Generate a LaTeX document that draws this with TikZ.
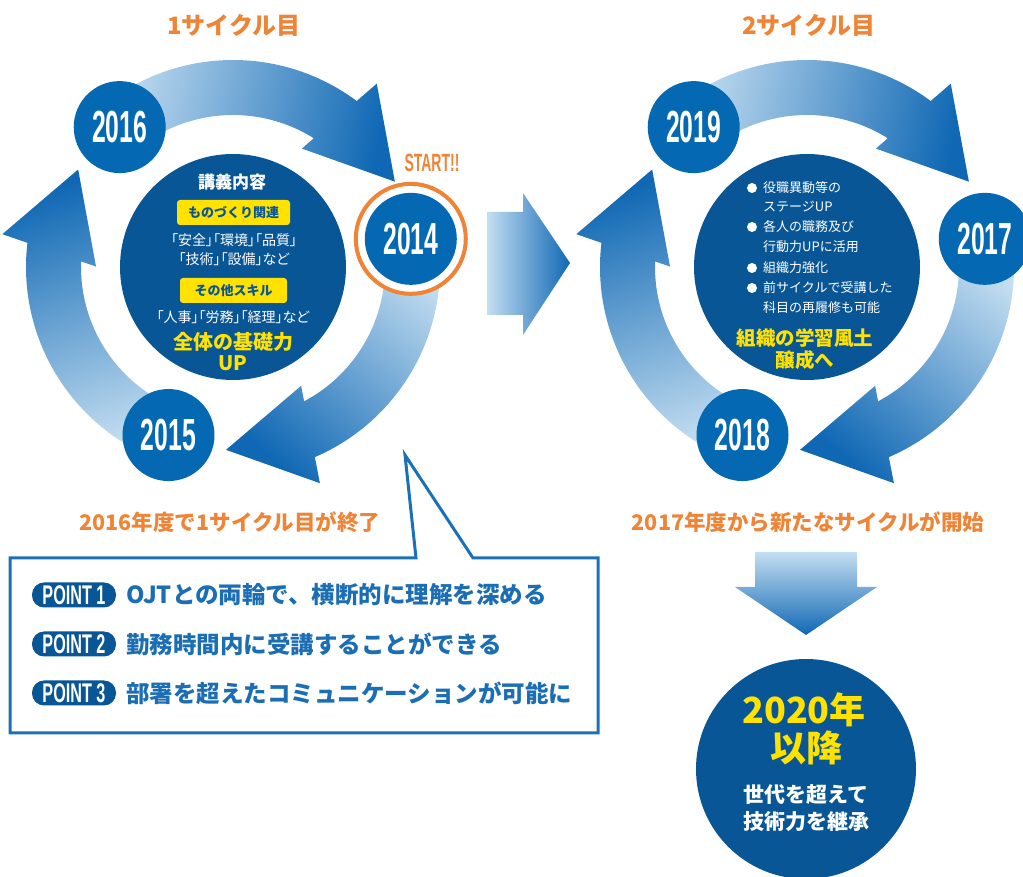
\documentclass[tikz,border=0pt]{standalone}
\usepackage{fontspec}
\usepackage{graphicx}
\setmainfont{Noto Sans CJK JP}
\newfontfamily\jpp{Noto Sans CJK JP}[RawFeature=+palt]
\newfontfamily\condf{Liberation Sans}
\usetikzlibrary{calc}
\definecolor{yearblue}{RGB}{4,104,178}
\definecolor{navy}{RGB}{9,86,150}
\definecolor{alight}{RGB}{196,222,241}
\definecolor{adark}{RGB}{16,104,180}
\definecolor{orng}{RGB}{239,132,54}
\definecolor{ylw}{RGB}{255,226,0}
\definecolor{ptblue}{RGB}{28,110,180}
\definecolor{boxblue}{RGB}{28,112,182}
\newcommand\myfs[1]{\fontsize{#1}{#1}\selectfont}
\newcommand\ringarrow[3]{%
\begin{scope}[shift={(#1)}]
\shade[top color=alight, bottom color=adark, shading angle=#3]
 ({129+#2}:207) arc[start angle={129+#2}, end angle={53.3+#2}, radius=207]
 -- ({51.9+#2}:233) -- ({27.8+#2}:183) -- ({59.8+#2}:137) -- ({57.9+#2}:152)
 arc[start angle={57.9+#2}, end angle={129+#2}, radius=152] -- cycle;
\end{scope}}
\begin{document}
\begin{tikzpicture}[x=1pt,y=1pt,
  year/.style={circle, fill=yearblue, minimum size=92pt, inner sep=0pt, text=white, font=\condf\bfseries\myfs{45}},
  center/.style={circle, fill=navy, minimum size=226pt, inner sep=0pt},
  tag/.style={fill=ylw, rounded corners=3pt, text=navy, font=\bfseries\myfs{13}, minimum height=25pt, inner sep=0pt},
  wtxt/.style={text=white, font=\myfs{13}, inner sep=0pt},
  ytxt/.style={text=ylw, font=\bfseries\myfs{20}, inner sep=0pt},
  otxt/.style={text=orng, font=\bfseries\myfs{21.5}, inner sep=0pt},
  bul/.style={circle, fill=white, minimum size=10pt, inner sep=0pt},
  badge/.style={fill=navy, rounded corners=12pt, minimum width=84pt, minimum height=25pt, inner sep=0pt, text=white, font=\condf\bfseries\myfs{27}},
  pttxt/.style={anchor=west, text=ptblue, font=\bfseries\myfs{23.5}, inner sep=0pt}]
\useasboundingbox (0,0) rectangle (1023,876);
\clip (0,0) rectangle (1023,876);
\coordinate (L) at (233,609);
\coordinate (R) at (807,609);
% ring arrows
\ringarrow{L}{0}{79}
\ringarrow{L}{-120}{-41}
\ringarrow{L}{120}{-161}
\ringarrow{R}{0}{79}
\ringarrow{R}{-120}{-41}
\ringarrow{R}{120}{-161}
% centres
\node[center] (lc) at (L) {};
\node[center] (rc) at (R) {};
% year circles, cycle 1
\node[year] (y16) at ($(L)+(129:180)$) {\scalebox{0.55}[1]{2016}};
\node[circle, draw=orng, line width=4pt, fill=white, minimum size=110pt, inner sep=0pt] (ring14) at ($(L)+(9:180)$) {};
\node[year] (y14) at (ring14) {\scalebox{0.55}[1]{2014}};
\node[year] (y15) at ($(L)+(249:180)$) {\scalebox{0.55}[1]{2015}};
\node[text=orng, font=\condf\bfseries\myfs{25}, inner sep=0pt] (start) at (432,713) {\scalebox{0.56}[1]{START!!}};
% year circles, cycle 2
\node[year] (y19) at ($(R)+(129:180)$) {\scalebox{0.55}[1]{2019}};
\node[year] (y17) at ($(R)+(9:180)$) {\scalebox{0.55}[1]{2017}};
\node[year] (y18) at ($(R)+(249:180)$) {\scalebox{0.55}[1]{2018}};
% left centre text
\node[wtxt, font=\bfseries\myfs{17}] (lt1) at (232,694) {講義内容};
\node[tag, minimum width=113pt] (tag1) at (233.5,663.5) {ものづくり関連};
\node[wtxt, font=\jpp\myfs{14}] (lt2) at (234,636) {「安全」「環境」「品質」};
\node[wtxt, font=\jpp\myfs{14}] (lt3) at (234,617) {「技術」「設備」など};
\node[tag, minimum width=107pt] (tag2) at (233.5,585.5) {その他スキル};
\node[wtxt, font=\jpp\myfs{14}] (lt4) at (233,559) {「人事」「労務」「経理」など};
\node[ytxt] (lt5) at (233,534) {全体の基礎力};
\node[ytxt] (lt6) at (233,513) {UP};
% right centre text
\node[bul] (b1) at (752,688) {};
\node[wtxt, anchor=west] (rt1) at (763,688) {役職異動等の};
\node[wtxt, anchor=west] (rt2) at (763,669) {ステージUP};
\node[bul] (b2) at (752,649) {};
\node[wtxt, anchor=west] (rt3) at (763,649) {各人の職務及び};
\node[wtxt, anchor=west] (rt4) at (763,629) {行動力UPに活用};
\node[bul] (b3) at (752,608) {};
\node[wtxt, anchor=west] (rt5) at (763,608) {組織力強化};
\node[bul] (b4) at (752,588) {};
\node[wtxt, anchor=west] (rt6) at (763,588) {前サイクルで受講した};
\node[wtxt, anchor=west] (rt7) at (763,568) {科目の再履修も可能};
\node[ytxt, font=\bfseries\myfs{19.5}] (rt8) at (805,538) {組織の学習風土};
\node[ytxt, font=\bfseries\myfs{19.5}] (rt9) at (805,516) {醸成へ};
% titles and captions
\node[otxt, font=\bfseries\myfs{24}] (c1) at (234,851) {1サイクル目};
\node[otxt, font=\bfseries\myfs{24}] (c2) at (809,851) {2サイクル目};
\node[otxt] (e1) at (230,354) {2016年度で1サイクル目が終了};
\node[otxt] (e2) at (808,354) {2017年度から新たなサイクルが開始};
% middle arrow
\shade[left color=alight, right color=adark] (487,664) -- (523,664) -- (523,683) -- (570,613) -- (523,541) -- (523,561) -- (487,561) -- cycle;
% down arrow
\shade[top color=alight, bottom color=adark] (755,324) -- (755,289) -- (735,289) -- (806,241) -- (877,289) -- (857,289) -- (857,324) -- cycle;
% callout box
\draw[boxblue, line width=3pt, fill=white, line join=miter] (416,318) -- (10,318) -- (10,143) -- (598,143) -- (598,318) -- (473,318) -- (405,421) -- cycle;
\node[badge] (p1) at (74,281) {\scalebox{0.6}[1]{POINT 1}};
\node[pttxt] (t1) at (126,281) {OJTとの両輪で、横断的に理解を深める};
\node[badge] (p2) at (74,232) {\scalebox{0.6}[1]{POINT 2}};
\node[pttxt] (t2) at (126,232) {勤務時間内に受講することができる};
\node[badge] (p3) at (74,183) {\scalebox{0.6}[1]{POINT 3}};
\node[pttxt] (t3) at (126,183) {部署を超えたコミュニケーションが可能に};
% final circle
\node[circle, fill=navy, minimum size=220pt, inner sep=0pt] (fc) at (806,107) {};
\node[text=ylw, font=\bfseries\myfs{36}, inner sep=0pt] (f1) at (804,166) {2020年};
\node[text=ylw, font=\bfseries\myfs{36}, inner sep=0pt] (f2) at (806,128) {以降};
\node[text=white, font=\bfseries\myfs{21}, inner sep=0pt] (f3) at (806,81) {世代を超えて};
\node[text=white, font=\bfseries\myfs{21}, inner sep=0pt] (f4) at (806,54) {技術力を継承};
\end{tikzpicture}
\end{document}
